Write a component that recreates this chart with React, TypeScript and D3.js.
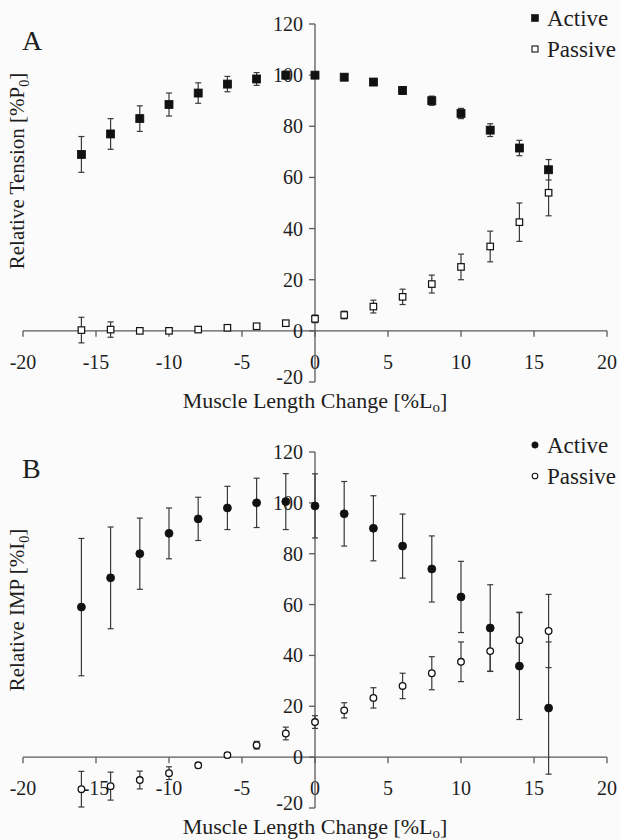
import React, { useRef, useEffect } from 'react';
import * as d3 from 'd3';

// muscle length change (%Lo)
const lengthChange = [-16, -14, -12, -10, -8, -6, -4, -2, 0, 2, 4, 6, 8, 10, 12, 14, 16];

// Panel A: relative tension (%P0)
const tensionActive = [69, 77, 83, 88.5, 93, 96.5, 98.5, 100, 100, 99.2, 97.3, 94, 90, 85, 78.5, 71.5, 63];
const tensionActiveErr = [7, 6, 5, 4.5, 4, 3, 2.5, 1.5, 1, 1.2, 1.2, 1.5, 1.8, 2, 2.5, 3, 4];
const tensionPassive = [0.3, 0.5, 0, 0, 0.5, 1.2, 1.8, 3, 4.7, 6.2, 9.5, 13.3, 18.3, 25, 33, 42.5, 54];
const tensionPassiveErr = [5, 3, 1, 0.5, 0.5, 0.5, 0.5, 0.8, 1.5, 1.5, 2.5, 3, 3.5, 5, 6, 7.5, 9];

// Panel B: relative IMP (%I0)
const impActive = [59, 70.5, 80, 88, 93.7, 98, 100, 100.5, 98.8, 95.7, 90, 83, 74, 63, 50.8, 35.8, 19.3];
const impActiveErr = [27, 20, 14, 10, 8.5, 8.5, 9.7, 11, 12.6, 12.7, 12.8, 12.6, 13, 14, 17, 21, 26];
const impPassive = [-12.6, -11.4, -9, -6.3, -3.2, 0.8, 4.7, 9.3, 13.8, 18.4, 23.3, 28, 33, 37.5, 41.7, 46, 49.6];
const impPassiveErr = [7, 5.5, 3.5, 2.5, 1, 1, 1.5, 2.5, 2.5, 3, 4, 5, 6.5, 7.8, 8, 11, 14.4];

const xTicks = [-20, -15, -10, -5, 0, 5, 10, 15, 20];
const yTicks = [-20, 0, 20, 40, 60, 80, 100, 120];

const FONT = 'Liberation Serif, Tinos, Times New Roman, DejaVu Serif, serif';
const INK = '#1e1e1e';
const AXIS = '#5a5a5a';

const App = () => {
  const svgRef = useRef(null);
  const width = 620;
  const height = 840;

  useEffect(() => {
    d3.select(svgRef.current).selectAll('*').remove();
    const svg = d3.select(svgRef.current);

    svg.append('rect')
      .attr('width', width)
      .attr('height', height)
      .attr('fill', '#fbfbfb');

    const x = d3.scaleLinear().domain([-20, 20]).range([23, 607]);

    const panels = [
      {
        letter: 'A', top: 24, bottom: 382, shape: 'square',
        yTitle: 'Relative Tension [%P', sub: '0', titleY: 171,
        active: tensionActive, activeErr: tensionActiveErr,
        passive: tensionPassive, passiveErr: tensionPassiveErr,
        legendY: 18
      },
      {
        letter: 'B', top: 452, bottom: 808, shape: 'circle',
        yTitle: 'Relative IMP [%I', sub: '0', titleY: 610,
        active: impActive, activeErr: impActiveErr,
        passive: impPassive, passiveErr: impPassiveErr,
        legendY: 445
      }
    ];

    panels.forEach(p => {
      const g = svg.append('g');
      const y = d3.scaleLinear().domain([-20, 120]).range([p.bottom, p.top]);
      const x0 = x(0);
      const y0 = y(0);

      // x axis along y = 0
      g.append('line')
        .attr('x1', x(-20)).attr('x2', x(20))
        .attr('y1', y0).attr('y2', y0)
        .attr('stroke', AXIS).attr('stroke-width', 1.3);
      g.selectAll('line.xtick')
        .data(xTicks)
        .join('line')
        .attr('class', 'xtick')
        .attr('x1', d => x(d)).attr('x2', d => x(d))
        .attr('y1', y0).attr('y2', y0 + 6)
        .attr('stroke', AXIS).attr('stroke-width', 1.3);
      g.selectAll('text.xlab')
        .data(xTicks)
        .join('text')
        .attr('class', 'xlab')
        .attr('x', d => x(d))
        .attr('y', y0 + 31)
        .attr('dy', '0.35em')
        .attr('text-anchor', 'middle')
        .attr('font-family', FONT)
        .attr('font-size', '20px')
        .attr('fill', INK)
        .text(d => d);

      // y axis along x = 0
      g.append('line')
        .attr('x1', x0).attr('x2', x0)
        .attr('y1', y(-20)).attr('y2', y(120))
        .attr('stroke', AXIS).attr('stroke-width', 1.3);
      g.selectAll('line.ytick')
        .data(yTicks)
        .join('line')
        .attr('class', 'ytick')
        .attr('x1', x0 - 6).attr('x2', x0)
        .attr('y1', d => y(d)).attr('y2', d => y(d))
        .attr('stroke', AXIS).attr('stroke-width', 1.3);
      g.selectAll('text.ylab')
        .data(yTicks)
        .join('text')
        .attr('class', 'ylab')
        .attr('x', x0 - 12)
        .attr('y', d => y(d) - (d === -20 ? 5 : 0))
        .attr('dy', '0.35em')
        .attr('text-anchor', 'end')
        .attr('font-family', FONT)
        .attr('font-size', '20px')
        .attr('fill', INK)
        .text(d => d);

      // error bars
      const drawErr = (means, errs, cls) => {
        const rows = means.map((m, i) => ({ x: lengthChange[i], m, e: errs[i] }));
        g.selectAll(`line.${cls}-v`)
          .data(rows)
          .join('line')
          .attr('class', `${cls}-v`)
          .attr('x1', d => x(d.x)).attr('x2', d => x(d.x))
          .attr('y1', d => y(d.m - d.e)).attr('y2', d => y(d.m + d.e))
          .attr('stroke', '#3a3a3a').attr('stroke-width', 1.2);
        [-1, 1].forEach(s => {
          g.selectAll(`line.${cls}-c${s}`)
            .data(rows)
            .join('line')
            .attr('class', `${cls}-c${s}`)
            .attr('x1', d => x(d.x) - 3).attr('x2', d => x(d.x) + 3)
            .attr('y1', d => y(d.m + s * d.e)).attr('y2', d => y(d.m + s * d.e))
            .attr('stroke', '#3a3a3a').attr('stroke-width', 1.2);
        });
        return rows;
      };

      const passiveRows = drawErr(p.passive, p.passiveErr, 'perr');
      const activeRows = drawErr(p.active, p.activeErr, 'aerr');

      const drawMarks = (rows, filled, cls) => {
        if (p.shape === 'square') {
          const s = filled ? 8 : 6.5;
          g.selectAll(`rect.${cls}`)
            .data(rows)
            .join('rect')
            .attr('class', cls)
            .attr('x', d => x(d.x) - s / 2)
            .attr('y', d => y(d.m) - s / 2)
            .attr('width', s).attr('height', s)
            .attr('fill', filled ? '#111' : '#fff')
            .attr('stroke', '#111')
            .attr('stroke-width', filled ? 0.8 : 1.2);
        } else {
          g.selectAll(`circle.${cls}`)
            .data(rows)
            .join('circle')
            .attr('class', cls)
            .attr('cx', d => x(d.x))
            .attr('cy', d => y(d.m))
            .attr('r', filled ? 4 : 3.3)
            .attr('fill', filled ? '#111' : '#fff')
            .attr('stroke', '#111')
            .attr('stroke-width', filled ? 0.8 : 1.3);
        }
      };
      drawMarks(passiveRows, false, 'pmark');
      drawMarks(activeRows, true, 'amark');

      // panel letter
      g.append('text')
        .attr('x', 22).attr('y', p.top + 26)
        .attr('font-family', FONT).attr('font-size', '28px').attr('fill', INK)
        .text(p.letter);

      // legend
      const legend = [
        { label: 'Active', filled: true, dy: 0 },
        { label: 'Passive', filled: false, dy: 31 }
      ];
      legend.forEach(l => {
        const ly = p.legendY + l.dy;
        if (p.shape === 'square') {
          const s = l.filled ? 7 : 6;
          g.append('rect')
            .attr('x', 535 - s / 2).attr('y', ly - s / 2)
            .attr('width', s).attr('height', s)
            .attr('fill', l.filled ? '#111' : '#fff')
            .attr('stroke', '#111').attr('stroke-width', l.filled ? 0.6 : 1.1);
        } else {
          g.append('circle')
            .attr('cx', 535).attr('cy', ly)
            .attr('r', l.filled ? 3.2 : 2.8)
            .attr('fill', l.filled ? '#111' : '#fff')
            .attr('stroke', '#111').attr('stroke-width', l.filled ? 0.6 : 1.1);
        }
        g.append('text')
          .attr('x', 547).attr('y', ly)
          .attr('dy', '0.35em')
          .attr('font-family', FONT).attr('font-size', '23px').attr('fill', INK)
          .text(l.label);
      });

      // y title
      const yt = g.append('text')
        .attr('transform', `translate(24,${p.titleY}) rotate(-90)`)
        .attr('text-anchor', 'middle')
        .attr('font-family', FONT).attr('font-size', '21px').attr('fill', INK);
      yt.append('tspan').text(p.yTitle);
      yt.append('tspan').attr('font-size', '14px').attr('dy', 5).text(p.sub);
      yt.append('tspan').attr('dy', -5).text(']');

      // x title
      const xt = g.append('text')
        .attr('x', x0).attr('y', p.bottom + 26)
        .attr('text-anchor', 'middle')
        .attr('font-family', FONT).attr('font-size', '22px').attr('fill', INK);
      xt.append('tspan').text('Muscle Length Change [%L');
      xt.append('tspan').attr('font-size', '15px').attr('dy', 4).text('o');
      xt.append('tspan').attr('dy', -4).text(']');
    });
  }, []);

  return (
    <svg
      ref={svgRef}
      width={width}
      height={height}
      style={{ position: 'absolute', left: 0, top: 0 }}
    />
  );
};

export default App;
